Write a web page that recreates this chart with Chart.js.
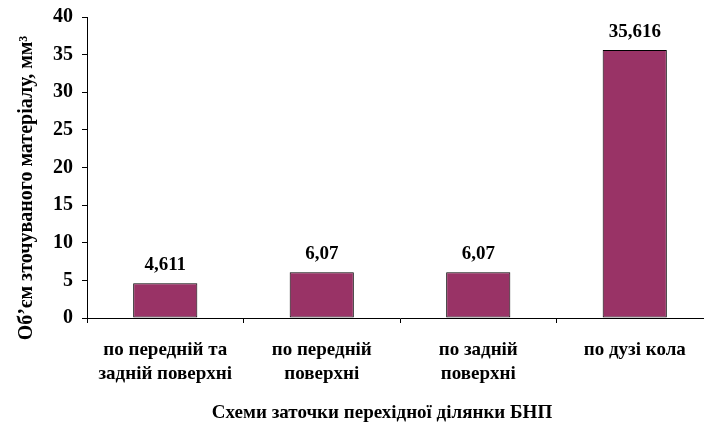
<!DOCTYPE html>
<html>
<head>
<meta charset="utf-8">
<script src="https://cdn.jsdelivr.net/npm/chart.js@4/dist/chart.umd.min.js"></script>
<style>
  html, body { margin: 0; padding: 0; background: #fff; overflow: hidden; }
  #wrap { width: 704px; height: 426px; overflow: hidden; }
</style>
</head>
<body>
<div id="wrap"><canvas id="chart" width="720" height="426"></canvas></div>
<script>
// Data
const categories = [
  ['по передній та', 'задній поверхні'],
  ['по передній', 'поверхні'],
  ['по задній', 'поверхні'],
  ['по дузі кола']
];
const volumes = [4.611, 6.07, 6.07, 35.616];
const valueLabels = ['4,611', '6,07', '6,07', '35,616'];
const yTicks = [0, 5, 10, 15, 20, 25, 30, 35, 40];

const xTitle = 'Схеми заточки перехідної ділянки БНП';
const yTitle = 'Об\u2019єм зточуваного матеріалу, мм\u00B3';

const fontFamily = '"Liberation Serif", "Times New Roman", serif';

// value labels above bars + axis titles
const labelPlugin = {
  id: 'labels',
  afterDatasetsDraw(chart) {
    const ctx = chart.ctx;
    const meta = chart.getDatasetMeta(0);
    ctx.save();
    ctx.fillStyle = '#000';
    ctx.font = 'bold 19px ' + fontFamily;
    ctx.textAlign = 'center';
    ctx.textBaseline = 'alphabetic';
    meta.data.forEach((bar, i) => {
      ctx.fillText(valueLabels[i], bar.x, bar.y - 13);
    });

    // x axis title
    ctx.textBaseline = 'middle';
    ctx.fillText(xTitle, 382, 413);

    // y axis title
    ctx.font = 'bold 20px ' + fontFamily;
    ctx.translate(27, 188);
    ctx.rotate(-Math.PI / 2);
    ctx.fillText(yTitle, 0, 0);
    ctx.restore();
  }
};

const ctx = document.getElementById('chart').getContext('2d');
new Chart(ctx, {
  type: 'bar',
  data: {
    labels: categories,
    datasets: [{
      data: volumes,
      backgroundColor: '#993366',
      borderColor: '#000',
      borderWidth: 1,
      borderSkipped: false,
      barPercentage: 0.41,
      categoryPercentage: 1
    }]
  },
  options: {
    responsive: false,
    animation: false,
    layout: { padding: { left: 0, right: 7, top: 17, bottom: 0 } },
    plugins: {
      legend: { display: false },
      tooltip: { enabled: false }
    },
    scales: {
      x: {
        afterFit: (scale) => {
          scale.height = 108;
          scale.paddingLeft = 0;
          scale.paddingRight = 0;
        },
        grid: {
          offset: true,
          drawOnChartArea: false,
          drawTicks: true,
          tickLength: 5,
          color: '#000'
        },
        border: { display: true, color: '#000', width: 1 },
        ticks: {
          color: '#000',
          padding: 15,
          maxRotation: 0,
          autoSkip: false,
          font: { family: fontFamily, size: 19, weight: 'bold', lineHeight: 1.26 }
        }
      },
      y: {
        min: 0,
        max: 40,
        afterFit: (scale) => {
          scale.width = 87;
          scale.paddingTop = 0;
          scale.paddingBottom = 0;
        },
        afterBuildTicks: (scale) => { scale.ticks = yTicks.map(v => ({ value: v })); },
        grid: {
          drawOnChartArea: false,
          drawTicks: true,
          tickLength: 5,
          color: '#000'
        },
        border: { display: true, color: '#000', width: 1 },
        ticks: {
          color: '#000',
          padding: 9,
          font: { family: fontFamily, size: 20, weight: 'bold', lineHeight: 1 }
        }
      }
    }
  },
  plugins: [labelPlugin]
});
</script>
</body>
</html>
